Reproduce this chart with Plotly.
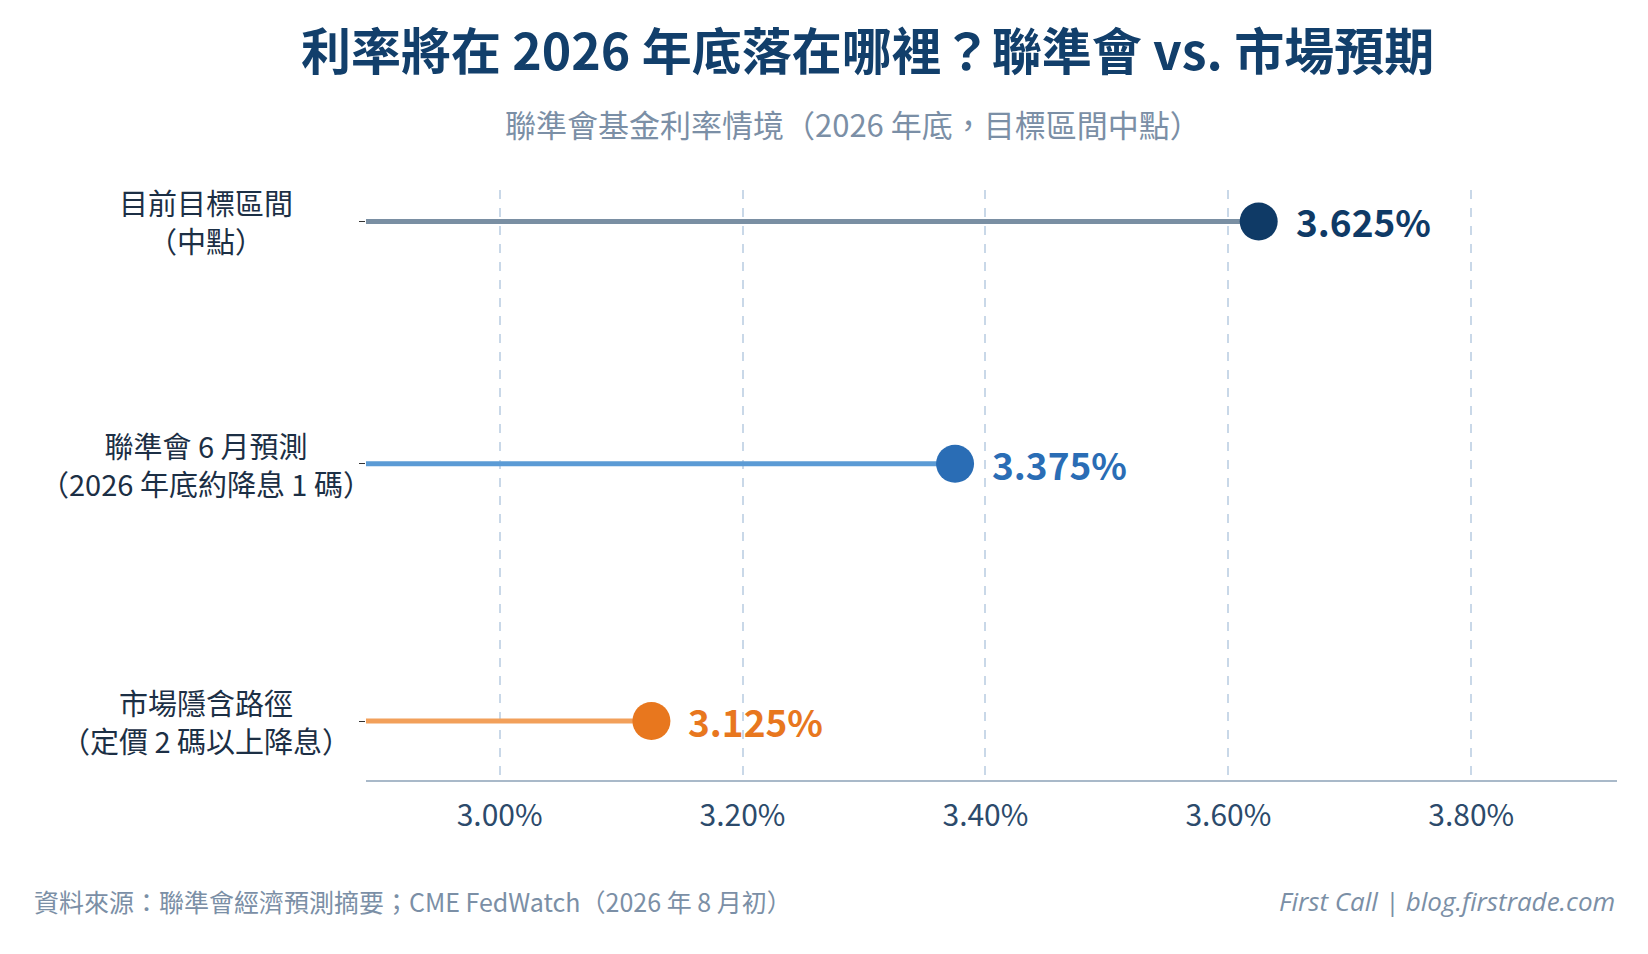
import plotly.graph_objects as go

categories = ["目前目標區間<br>（中點）", "聯準會 6 月預測<br>（2026 年底約降息 1 碼）", "市場隱含路徑<br>（定價 2 碼以上降息）"]
values = [3.625, 3.375, 3.125]
labels = ["3.625%", "3.375%", "3.125%"]
line_colors = ["#7a8fa3", "#5b9bd5", "#f2a05a"]
dot_colors = ["#0f3a66", "#2a6db5", "#e8771e"]
tick_vals = [3.0, 3.2, 3.4, 3.6, 3.8]
tick_text = ["3.00%", "3.20%", "3.40%", "3.60%", "3.80%"]
xmin, xmax = 2.89, 3.92
ypos = [2.0, 1.03, 0.0]

W, H, L, R, T, B = 1648, 954, 358, 39, 182, 182
PW, PH = W - L - R, H - T - B
def px(x): return (x - L) / PW
def py(y): return (H - B - y) / PH

font = "Noto Sans CJK TC"
fig = go.Figure()
ann = []
for c, v, lab, lc, dc, y in zip(categories, values, labels, line_colors, dot_colors, ypos):
    fig.add_trace(go.Scatter(x=[xmin, v], y=[y, y], mode="lines",
                             line=dict(color=lc, width=5), showlegend=False, hoverinfo="skip"))
    fig.add_trace(go.Scatter(x=[v], y=[y], mode="markers",
                             marker=dict(size=38, color=dc), showlegend=False))
    ann.append(dict(text=f"<b>{lab}</b>", x=v, y=y, xref="x", yref="y", xshift=35, xanchor="left",
                    yanchor="middle", showarrow=False, font=dict(size=37, color=dc)))
    ann.append(dict(text=c, x=px(198), y=y, xref="paper", yref="y", xanchor="center",
                    yanchor="middle", showarrow=False, align="center",
                    font=dict(size=29, color="#1c2f45")))

ann += [
    dict(text="<b>利率將在 2026 年底落在哪裡？聯準會 vs. 市場預期</b>", x=px(859), y=py(40),
         xref="paper", yref="paper", yanchor="middle", showarrow=False,
         font=dict(size=50, color="#123f6b")),
    dict(text="聯準會基金利率情境（2026 年底，目標區間中點）", x=px(845), y=py(116), xref="paper",
         yref="paper", yanchor="middle", showarrow=False, font=dict(size=31, color="#7b8fa6")),
    dict(text="資料來源：聯準會經濟預測摘要；CME FedWatch（2026 年 8 月初）", x=px(24), y=py(893),
         xref="paper", yref="paper", yanchor="middle", showarrow=False, xanchor="left",
         font=dict(size=25, color="#7b8fa6")),
    dict(text="<i>First Call | blog.firstrade.com</i>", x=px(1609), y=py(893), xref="paper",
         yref="paper", yanchor="middle", showarrow=False, xanchor="right",
         font=dict(size=26, color="#7b8fa6", family="Open Sans")),
]

fig.update_layout(
    width=W, height=H, paper_bgcolor="white", plot_bgcolor="white",
    margin=dict(l=L, r=R, t=T, b=B), font=dict(family=font),
    xaxis=dict(range=[xmin, xmax], tickvals=tick_vals, ticktext=tick_text,
               showgrid=True, gridcolor="#c9d8e8", griddash="dash", gridwidth=1.5,
               zeroline=False, showline=True, linecolor="#a9b9c9", linewidth=2,
               tickfont=dict(size=30, color="#2c4a6b"), ticks="", ticklabelstandoff=8),
    yaxis=dict(range=[-0.236, 2.126], tickvals=ypos, ticktext=["", "", ""], showgrid=False,
               zeroline=False, ticks="outside", ticklen=6, tickcolor="#333"),
    annotations=ann,
)
fig.write_html("out.html")
